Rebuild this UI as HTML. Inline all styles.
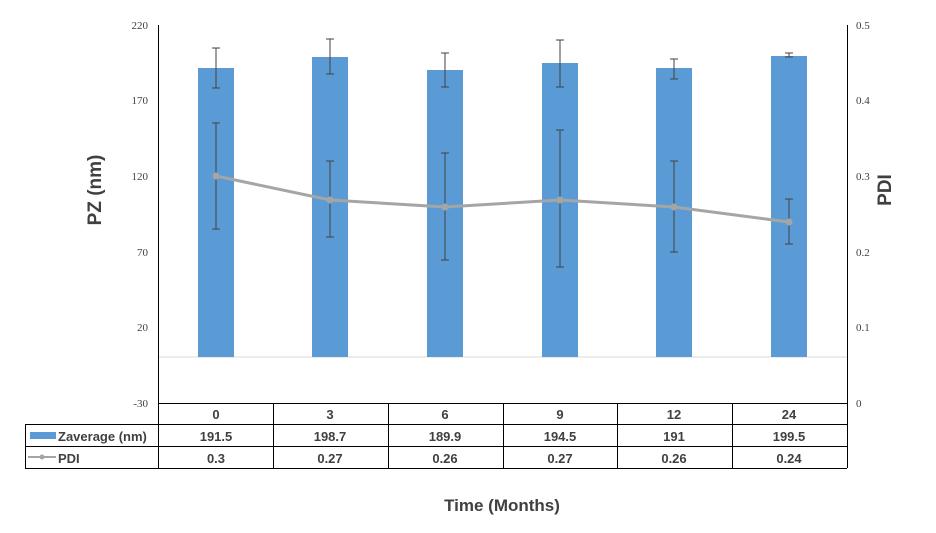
<!DOCTYPE html><html><head><style>body{margin:0;background:#fff}</style></head><body>
<svg width="936" height="528" xmlns="http://www.w3.org/2000/svg" font-family="Liberation Sans, sans-serif">
<rect width="936" height="528" fill="#fff"/>
<g font-family="Liberation Serif, serif" font-size="11" fill="#404040" text-anchor="end">
<text x="148" y="29">220</text><text x="148" y="104">170</text><text x="148" y="180">120</text><text x="148" y="256">70</text><text x="148" y="331">20</text><text x="148" y="407">-30</text>
</g>
<g font-family="Liberation Serif, serif" font-size="11" fill="#404040">
<text x="856" y="29">0.5</text><text x="856" y="104">0.4</text><text x="856" y="180">0.3</text><text x="856" y="256">0.2</text><text x="856" y="331">0.1</text><text x="856" y="407">0</text>
</g>
<line x1="158" y1="357" x2="847" y2="357" stroke="#d9d9d9"/>
<g fill="#5b9bd5">
<rect x="198" y="68" width="36" height="289"/><rect x="312" y="57" width="36" height="300"/><rect x="427" y="70" width="36" height="287"/><rect x="542" y="63" width="36" height="294"/><rect x="656" y="68" width="36" height="289"/><rect x="771" y="56" width="36" height="301"/>
</g>
<g stroke="#404040" stroke-width="1">
<path d="M216 48V88M212 48h8M212 88h8M330 39V74M326 39h8M326 74h8M445 53V87M441 53h8M441 87h8M560 40V87M556 40h8M556 87h8M674 59V79M670 59h8M670 79h8M789 53V57M785 53h8M785 57h8"/>
<path d="M216 123V229M212 123h8M212 229h8M330 161V237M326 161h8M326 237h8M445 153V260M441 153h8M441 260h8M560 130V267M556 130h8M556 267h8M674 161V252M670 161h8M670 252h8M789 199V244M785 199h8M785 244h8"/>
</g>
<polyline points="216,176 330,200 445,207 560,200 674,207 789,222" fill="none" stroke="#a5a5a5" stroke-width="3"/>
<g fill="#a5a5a5"><circle cx="216" cy="176" r="3.5"/><circle cx="330" cy="200" r="3.5"/><circle cx="445" cy="207" r="3.5"/><circle cx="560" cy="200" r="3.5"/><circle cx="674" cy="207" r="3.5"/><circle cx="789" cy="222" r="3.5"/></g>
<g stroke="#000" stroke-width="1" fill="none">
<line x1="158.5" y1="25" x2="158.5" y2="468"/><line x1="847.5" y1="25" x2="847.5" y2="468"/>
<line x1="158" y1="403.5" x2="847" y2="403.5"/><line x1="25" y1="424.5" x2="847" y2="424.5"/><line x1="25" y1="446.5" x2="847" y2="446.5"/><line x1="25" y1="468.5" x2="847" y2="468.5"/>
<line x1="25.5" y1="424" x2="25.5" y2="468"/>
<path d="M273.5 403V468M388.5 403V468M503.5 403V468M617.5 403V468M732.5 403V468"/>
</g>
<g font-size="13" font-weight="bold" fill="#404040" text-anchor="middle">
<text x="216" y="419">0</text><text x="330" y="419">3</text><text x="445" y="419">6</text><text x="560" y="419">9</text><text x="674" y="419">12</text><text x="789" y="419">24</text>
<text x="216" y="441">191.5</text><text x="330" y="441">198.7</text><text x="445" y="441">189.9</text><text x="560" y="441">194.5</text><text x="674" y="441">191</text><text x="789" y="441">199.5</text>
<text x="216" y="463">0.3</text><text x="330" y="463">0.27</text><text x="445" y="463">0.26</text><text x="560" y="463">0.27</text><text x="674" y="463">0.26</text><text x="789" y="463">0.24</text>
</g>
<rect x="30" y="432" width="26" height="7" fill="#5b9bd5"/>
<text x="58" y="441" font-size="13" font-weight="bold" fill="#404040">Zaverage (nm)</text>
<line x1="28" y1="457" x2="56" y2="457" stroke="#a5a5a5" stroke-width="2"/><circle cx="42" cy="457" r="2.5" fill="#a5a5a5"/>
<text x="58" y="463" font-size="13" font-weight="bold" fill="#404040">PDI</text>
<text x="502" y="511" font-size="17" font-weight="bold" fill="#404040" text-anchor="middle">Time (Months)</text>
<text transform="translate(101,190) rotate(-90)" font-size="19" font-weight="bold" fill="#404040" text-anchor="middle">PZ (nm)</text>
<text transform="translate(891,190) rotate(-90)" font-size="19" font-weight="bold" fill="#404040" text-anchor="middle">PDI</text>
</svg>
</body></html>
